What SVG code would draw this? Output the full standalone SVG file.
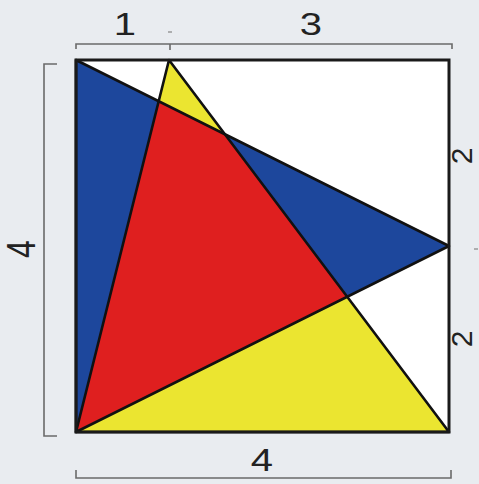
<svg xmlns="http://www.w3.org/2000/svg" width="479" height="484" viewBox="0 0 479 484">
<style>
.lbl{font-family:"Liberation Sans",Arial,sans-serif;font-size:32px;fill:#222;text-anchor:middle}
.sm{font-size:30px}
.dim{stroke:#6a6a6a;stroke-width:1.6;fill:none}
.edge{stroke:#111;stroke-width:2.6;fill:none;stroke-linejoin:round}
</style>
<rect width="479" height="484" fill="#e9ecf0"/>
<g id="square"><rect x="76" y="60" width="373" height="372" fill="#ffffff"/></g>
<g id="blue-triangle"><polygon points="76,60 76,432 449,246" fill="#1d479c"/></g>
<g id="yellow-triangle"><polygon points="169,60 76,432 449,432" fill="#ebe530"/></g>
<g id="red-overlap"><polygon points="76,432 158.7,101.2 224.9,134.2 347.2,296.8" fill="#df1f1f"/></g>
<g id="connectors">
<polygon class="edge" points="76,60 76,432 449,246"/>
<polygon class="edge" points="169,60 76,432 449,432"/>
<rect x="76" y="60" width="373" height="372" fill="none" stroke="#1a1a1a" stroke-width="3"/>
<path class="dim" d="M76,49 V44 H452 V49 M170,44 V50"/>
<path class="dim" d="M57,64 H44 V436 H57"/>
<path class="dim" d="M76,470 V478 H451 V470"/>
<path d="M168,32 H172 M474,249 H478" stroke="#999" stroke-width="1.5"/>
</g>
<g id="labels">
<text class="lbl" transform="translate(125,35) scale(1.25,1)">1</text>
<text class="lbl" transform="translate(311,35) scale(1.25,1)">3</text>
<text class="lbl" transform="translate(262,471) scale(1.25,1)">4</text>
<text class="lbl" transform="translate(35,249) scale(1.25,1) rotate(-90)">4</text>
<text class="lbl sm" transform="translate(472,156) rotate(-90)">2</text>
<text class="lbl sm" transform="translate(472,339) rotate(-90)">2</text>
</g>
</svg>
